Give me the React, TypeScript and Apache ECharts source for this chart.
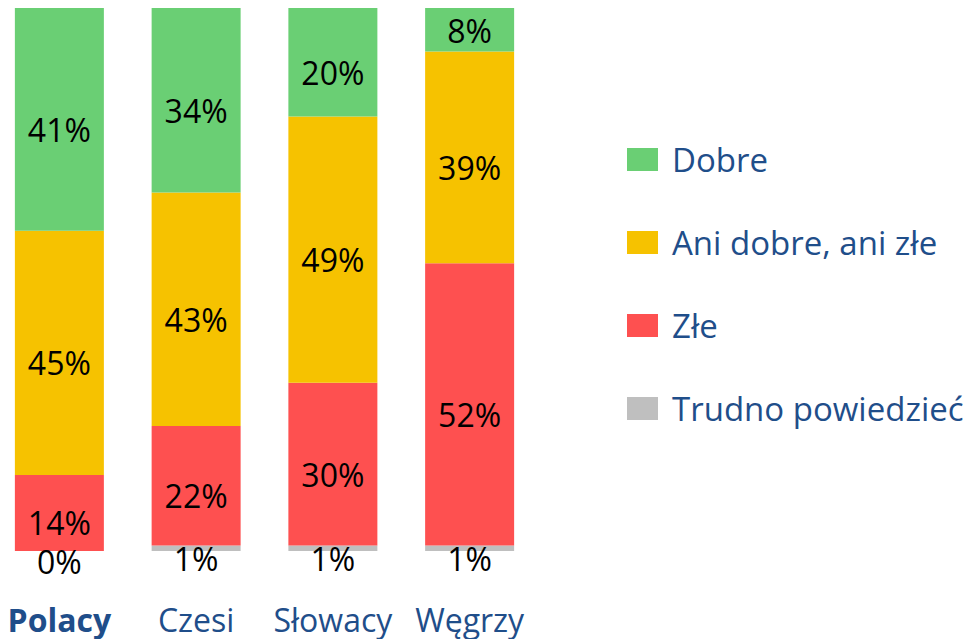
import React, { useEffect, useRef } from "react";
import * as echarts from "echarts";

const categories = ["Polacy", "Czesi", "Słowacy", "Węgrzy"];
const seriesNames = ["Dobre", "Ani dobre, ani złe", "Złe", "Trudno powiedzieć"];
const dobre = [41, 34, 20, 8];
const ani = [45, 43, 49, 39];
const zle = [14, 22, 30, 52];
const trudno = [0, 1, 1, 1];

const FONT = "'Open Sans', 'Noto Sans', sans-serif";
const BLUE = "#1F4E8A";
const SHIFT = 9;

export default function App() {
  const ref = useRef<HTMLDivElement>(null);
  useEffect(() => {
    if (!ref.current) return;
    const chart = echarts.init(ref.current, undefined, { renderer: "svg" });
    const mkLabel = (off: number) => ({
      show: true,
      position: "inside",
      formatter: "{c}%",
      color: "#000",
      fontFamily: FONT,
      fontSize: 32,
      offset: [0, off],
    });
    const mkData = (arr: number[], name: string) =>
      arr.map((v) => {
        if (name === "Dobre" && v < 10) {
          return { value: v, label: { offset: [0, 1] } };
        }
        return v;
      });
    const mk = (name: string, arr: number[], color: string) => ({
      name,
      type: "bar",
      stack: "total",
      barWidth: 89,
      itemStyle: { color },
      label: mkLabel(10),
      data: mkData(arr, name),
    });
    chart.setOption({
      animation: false,
      backgroundColor: "#fff",
      grid: { left: 0, top: 8, bottom: 88, width: 547 },
      xAxis: {
        type: "category",
        data: categories,
        axisLine: { show: false },
        axisTick: { show: false },
        axisLabel: {
          interval: 0,
          margin: 52,
          fontFamily: FONT,
          fontSize: 32,
          color: BLUE,
          formatter: (v: string) => (v === "Polacy" ? "{b|" + v + "}" : v),
          rich: { b: { fontWeight: "bold", fontFamily: FONT, fontSize: 32, color: BLUE } },
        },
      },
      yAxis: { type: "value", min: 0, max: 100, show: false, splitLine: { show: false } },
      legend: {
        orient: "vertical",
        left: 622 + SHIFT,
        top: 138,
        icon: "rect",
        itemWidth: 31,
        itemHeight: 23,
        itemGap: 50,
        data: seriesNames,
        textStyle: {
          fontFamily: FONT,
          fontSize: 33,
          lineHeight: 33,
          color: BLUE,
          padding: [0, 0, 0, 9],
        },
      },
      series: [
        mk("Trudno powiedzieć", trudno, "#BFBFBF"),
        mk("Złe", zle, "#FE5050"),
        mk("Ani dobre, ani złe", ani, "#F6C200"),
        mk("Dobre", dobre, "#6ACF74"),
      ],
    });
    return () => chart.dispose();
  }, []);
  return (
    <div
      ref={ref}
      style={{ position: "fixed", left: -SHIFT, top: 0, width: 963 + SHIFT, height: 639, background: "#fff" }}
    />
  );
}
